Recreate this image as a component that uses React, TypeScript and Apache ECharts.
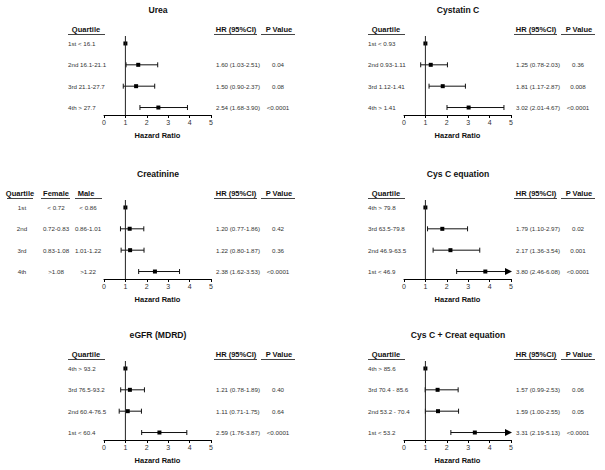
import React, { useEffect, useRef } from "react";
import * as echarts from "echarts";

// ---------- data ----------
const panelTitles = ["Urea", "Cystatin C", "Creatinine", "Cys C equation", "eGFR (MDRD)", "Cys C + Creat equation"];

const ureaLabels = ["1st < 16.1", "2nd 16.1-21.1", "3rd 21.1-27.7", "4th > 27.7"];
const ureaHR = [1, 1.6, 1.5, 2.54];
const ureaLo = [null, 1.03, 0.9, 1.68];
const ureaHi = [null, 2.51, 2.37, 3.9];
const ureaP = ["", "0.04", "0.08", "<0.0001"];

const cysLabels = ["1st < 0.93", "2nd 0.93-1.11", "3rd 1.12-1.41", "4th > 1.41"];
const cysHR = [1, 1.25, 1.81, 3.02];
const cysLo = [null, 0.78, 1.17, 2.01];
const cysHi = [null, 2.03, 2.87, 4.67];
const cysP = ["", "0.36", "0.008", "<0.0001"];

const creatQuartile = ["1st", "2nd", "3rd", "4th"];
const creatFemale = ["< 0.72", "0.72-0.83", "0.83-1.08", ">1.08"];
const creatMale = ["< 0.86", "0.86-1.01", "1.01-1.22", ">1.22"];
const creatHR = [1, 1.2, 1.22, 2.38];
const creatLo = [null, 0.77, 0.8, 1.62];
const creatHi = [null, 1.86, 1.87, 3.53];
const creatP = ["", "0.42", "0.36", "<0.0001"];

const cysEqLabels = ["4th > 79.8", "3rd 63.5-79.8", "2nd 46.9-63.5", "1st < 46.9"];
const cysEqHR = [1, 1.79, 2.17, 3.8];
const cysEqLo = [null, 1.1, 1.36, 2.46];
const cysEqHi = [null, 2.97, 3.54, 6.08];
const cysEqP = ["", "0.02", "0.001", "<0.0001"];

const egfrLabels = ["4th > 93.2", "3rd 76.5-93.2", "2nd 60.4-76.5", "1st < 60.4"];
const egfrHR = [1, 1.21, 1.11, 2.59];
const egfrLo = [null, 0.78, 0.71, 1.76];
const egfrHi = [null, 1.89, 1.75, 3.87];
const egfrP = ["", "0.40", "0.64", "<0.0001"];

const comboLabels = ["4th > 85.6", "3rd 70.4 - 85.6", "2nd 53.2 - 70.4", "1st < 53.2"];
const comboHR = [1, 1.57, 1.59, 3.31];
const comboLo = [null, 0.99, 1.0, 2.19];
const comboHi = [null, 2.53, 2.55, 5.13];
const comboP = ["", "0.06", "0.05", "<0.0001"];

const xTicks = [0, 1, 2, 3, 4, 5];
const refHR = 1;

// ---------- layout ----------
const X_MIN = 0;
const X_MAX = 5;
const Y_MIN = -0.35;
const Y_MAX = 3.35;
const GRID_W = 107;
const GRID_H = 79;
const LEFTS = [104, 404];
const TOPS = [36, 200, 361];
const SANS = "'Liberation Sans', Arial, sans-serif";
const DATA_FS = 6.2;
const DATA_FILL = "#333";
const TITLE_FS = 8.6;

type Panel = {
  title: string;
  labels?: string[];
  cols?: string[][];
  hr: number[];
  lo: (number | null)[];
  hi: (number | null)[];
  p: string[];
};

const panels: Panel[] = [
  { title: panelTitles[0], labels: ureaLabels, hr: ureaHR, lo: ureaLo, hi: ureaHi, p: ureaP },
  { title: panelTitles[1], labels: cysLabels, hr: cysHR, lo: cysLo, hi: cysHi, p: cysP },
  { title: panelTitles[2], cols: [creatQuartile, creatFemale, creatMale], hr: creatHR, lo: creatLo, hi: creatHi, p: creatP },
  { title: panelTitles[3], labels: cysEqLabels, hr: cysEqHR, lo: cysEqLo, hi: cysEqHi, p: cysEqP },
  { title: panelTitles[4], labels: egfrLabels, hr: egfrHR, lo: egfrLo, hi: egfrHi, p: egfrP },
  { title: panelTitles[5], labels: comboLabels, hr: comboHR, lo: comboLo, hi: comboHi, p: comboP },
];

let measureCtx: CanvasRenderingContext2D | null = null;
function measure(text: string, size: number, bold: boolean): number {
  if (!measureCtx) measureCtx = document.createElement("canvas").getContext("2d");
  if (!measureCtx) return text.length * size * 0.55;
  measureCtx.font = `${bold ? "bold " : ""}${size}px ${SANS}`;
  return measureCtx.measureText(text).width;
}

// centred text drawn left-aligned from a measured start, so the centre is exact
function txt(text: string, x: number, y: number, align: string, size: number, bold: boolean, fill = "#111") {
  let left = x;
  if (align === "center") left = x - measure(text, size, bold) / 2;
  else if (align === "right") left = x - measure(text, size, bold);
  return {
    type: "text",
    x: left,
    y,
    style: {
      text,
      fontSize: size,
      fontFamily: SANS,
      fontWeight: bold ? "bold" : "normal",
      fill,
      align: "left",
      verticalAlign: "middle",
      textAlign: "left",
      textVerticalAlign: "middle",
    },
  };
}

function uline(x1: number, x2: number, y: number) {
  return {
    type: "line",
    shape: { x1, y1: y, x2, y2: y },
    style: { stroke: "#444", lineWidth: 1 },
  };
}

function buildOption() {
  const grids: any[] = [];
  const xAxes: any[] = [];
  const yAxes: any[] = [];
  const series: any[] = [];
  const graphics: any[] = [];

  panels.forEach((pn, k) => {
    const L = LEFTS[k % 2];
    const T = TOPS[Math.floor(k / 2)];
    grids.push({ left: L, top: T, width: GRID_W, height: GRID_H });
    xAxes.push({
      type: "value",
      gridIndex: k,
      min: X_MIN,
      max: X_MAX,
      interval: 1,
      splitLine: { show: false },
      axisLine: { show: true, onZero: false, lineStyle: { color: "#000", width: 1 } },
      axisTick: { show: true, length: 3, lineStyle: { color: "#000" } },
      axisLabel: {
        fontSize: 7,
        color: "#333",
        margin: 4,
        fontFamily: SANS,
        formatter: (v: number) => (xTicks.includes(v) ? String(v) : ""),
      },
      name: "Hazard Ratio",
      nameLocation: "middle",
      nameGap: 16,
      nameTextStyle: { fontSize: 7.5, fontWeight: "bold", color: "#111", fontFamily: SANS },
    });
    yAxes.push({ type: "value", gridIndex: k, min: Y_MIN, max: Y_MAX, inverse: true, show: false });

    // reference line at HR = 1
    series.push({
      type: "line",
      xAxisIndex: k,
      yAxisIndex: k,
      data: [[refHR, Y_MIN], [refHR, Y_MAX]],
      symbol: "none",
      lineStyle: { color: "#222", width: 1 },
      silent: true,
    });

    const data = pn.hr.map((h, i) => [h, i, pn.lo[i] ?? NaN, pn.hi[i] ?? NaN]);

    series.push({
      type: "custom",
      xAxisIndex: k,
      yAxisIndex: k,
      clip: false,
      silent: true,
      encode: { x: 0, y: 1 },
      data,
      renderItem: (params: any, api: any) => {
        const idx = params.dataIndex;
        const h = api.value(0);
        const row = api.value(1);
        const lo = api.value(2);
        const hi = api.value(3);
        const pt = api.coord([h, row]);
        const base = api.coord([X_MIN, row])[0];
        const y = pt[1];
        const ch: any[] = [];
        const stroke = { stroke: "#111", lineWidth: 1 };
        if (!isNaN(lo) && !isNaN(hi)) {
          const xl = api.coord([lo, row])[0];
          const arrow = hi > X_MAX;
          const xh = api.coord([arrow ? X_MAX : hi, row])[0];
          ch.push({ type: "line", shape: { x1: xl, y1: y, x2: arrow ? xh - 5 : xh, y2: y }, style: stroke });
          ch.push({ type: "line", shape: { x1: xl, y1: y - 2.5, x2: xl, y2: y + 2.5 }, style: stroke });
          if (arrow) {
            ch.push({
              type: "polygon",
              shape: { points: [[xh + 1, y], [xh - 6, y - 3.5], [xh - 6, y + 3.5]] },
              style: { fill: "#000" },
            });
          } else {
            ch.push({ type: "line", shape: { x1: xh, y1: y - 2.5, x2: xh, y2: y + 2.5 }, style: stroke });
          }
          ch.push(
            txt(`${h.toFixed(2)} (${lo.toFixed(2)}-${hi.toFixed(2)})`, base + 112, y, "left", DATA_FS, false, DATA_FILL)
          );
          ch.push(txt(pn.p[idx], base + 174, y, "center", DATA_FS, false, DATA_FILL));
        }
        ch.push({ type: "rect", shape: { x: pt[0] - 2, y: y - 2, width: 4, height: 4 }, style: { fill: "#000" } });
        if (pn.labels) {
          ch.push(txt(pn.labels[idx], base - 36, y, "left", DATA_FS, false, DATA_FILL));
        } else if (pn.cols) {
          ch.push(txt(pn.cols[0][idx], base - 82, y, "center", DATA_FS, false, DATA_FILL));
          ch.push(txt(pn.cols[1][idx], base - 48, y, "center", DATA_FS, false, DATA_FILL));
          ch.push(txt(pn.cols[2][idx], base - 16, y, "center", DATA_FS, false, DATA_FILL));
        }
        return { type: "group", children: ch };
      },
    });

    // title
    graphics.push(txt(pn.title, L + 54, T - 26, "center", TITLE_FS, true, "#111"));

    // headers
    const hy = T - 7;
    const uy = T - 1.5;
    if (pn.cols) {
      graphics.push(txt("Quartile", L - 84, hy, "center", 7.5, true));
      graphics.push(uline(L - 97, L - 71, uy));
      graphics.push(txt("Female", L - 48, hy, "center", 7.5, true));
      graphics.push(uline(L - 63, L - 34, uy));
      graphics.push(txt("Male", L - 18, hy, "center", 7.5, true));
      graphics.push(uline(L - 29, L - 2, uy));
    } else {
      graphics.push(txt("Quartile", L - 18, hy, "center", 7.5, true));
      graphics.push(uline(L - 36, L + 1, uy));
    }
    graphics.push(txt("HR (95%CI)", L + 132, hy, "center", 7.5, true));
    graphics.push(uline(L + 110, L + 153, uy));
    graphics.push(txt("P Value", L + 175, hy, "center", 7.5, true));
    graphics.push(uline(L + 157, L + 191, uy));
  });

  return {
    animation: false,
    backgroundColor: "#fff",
    grid: grids,
    xAxis: xAxes,
    yAxis: yAxes,
    series,
    graphic: graphics,
  };
}

export default function App() {
  const ref = useRef<HTMLDivElement>(null);
  useEffect(() => {
    if (!ref.current) return;
    const chart = echarts.init(ref.current, undefined, { renderer: "svg" });
    chart.setOption(buildOption() as any);
    return () => chart.dispose();
  }, []);
  return (
    <div
      ref={ref}
      style={{ position: "absolute", left: 0, top: 0, width: 605, height: 470, background: "#fff" }}
    />
  );
}
